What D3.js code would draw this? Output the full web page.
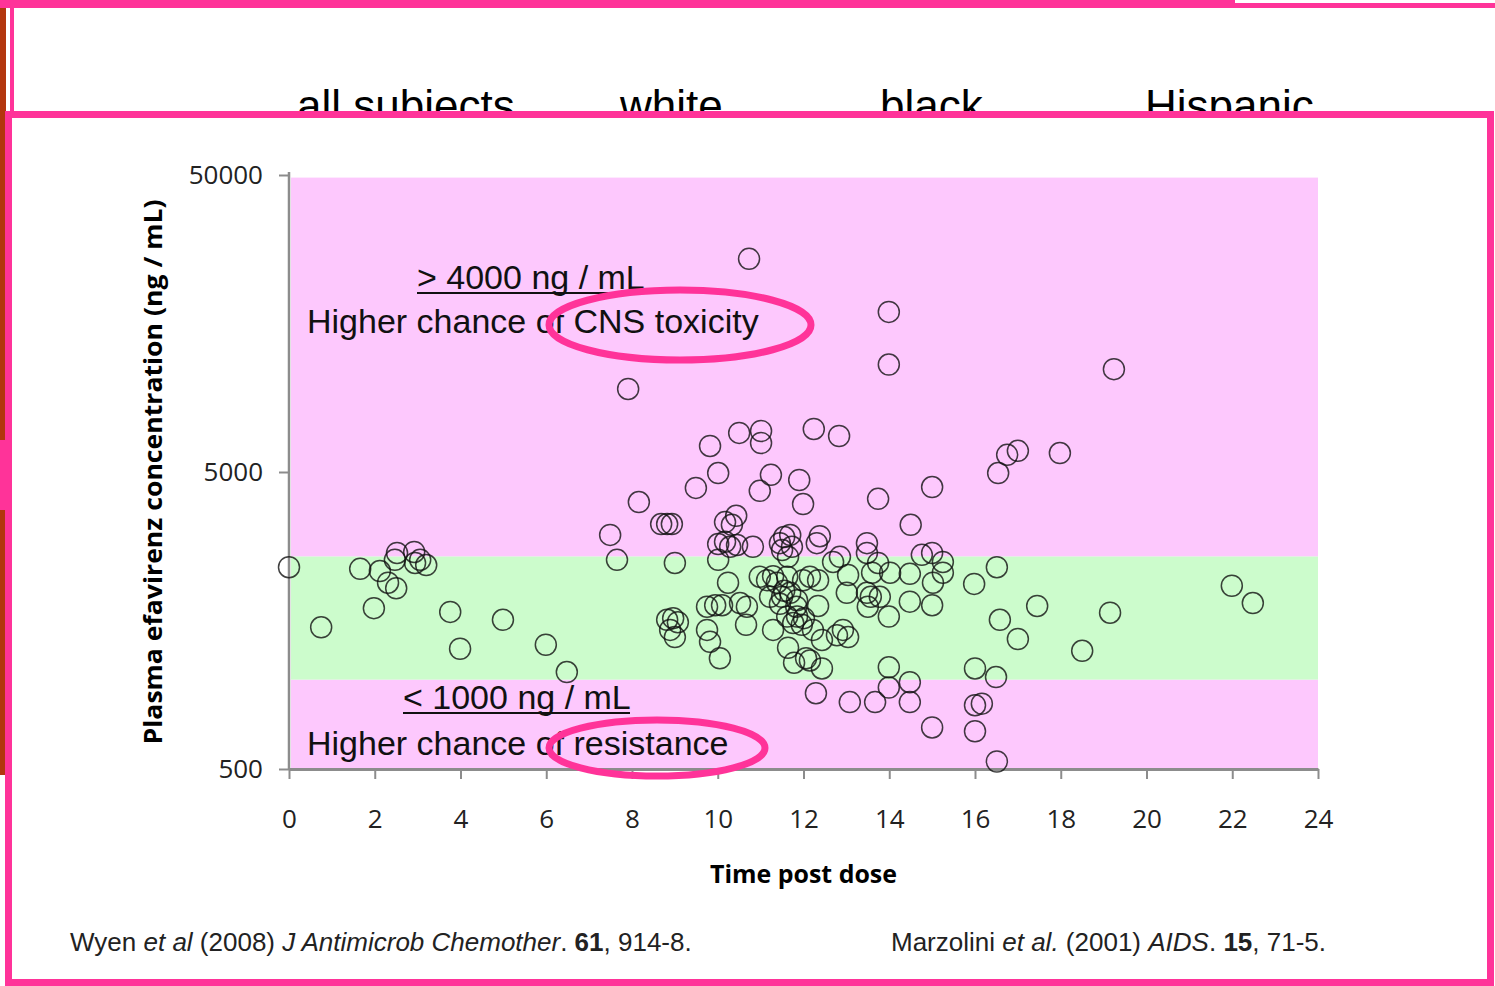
<!DOCTYPE html>
<html>
<head>
<meta charset="utf-8">
<script src="https://cdn.jsdelivr.net/npm/d3@7"></script>
<style>
  body { margin: 0; background: #fff; }
  svg { display: block; }
</style>
</head>
<body>
<div id="chart"></div>
<script>
// slide header (partly hidden behind the chart panel)
const groups = ["all subjects", "white", "black", "Hispanic"];

// efavirenz concentrations vs. time post dose
const hours = [0, 0.75, 1.66, 2.12, 1.98, 2.31, 2.5, 2.47, 2.52, 2.92, 2.94, 3.2, 3.06, 3.76, 3.99, 4.99, 5.99, 6.48,
  7.91, 8.16, 7.49, 7.65, 8.68, 8.82, 8.93, 9.0, 8.82, 8.96, 9.07, 8.89, 9.0,
  9.49, 9.82, 10.01, 10.5, 10.73, 11.01, 11.01, 10.98, 11.24,
  9.75, 9.94, 10.1, 9.75, 9.82, 10.05, 10.24, 10.01, 10.17, 10.43, 10.33, 10.01, 10.17, 10.29, 10.45, 10.82,
  10.52, 10.68, 10.66, 11.29, 10.98, 11.15, 11.29, 11.22,
  11.45, 11.55, 11.69, 11.5, 11.64, 11.73, 11.38, 11.62, 11.5, 11.55, 11.69, 11.85, 11.45,
  11.64, 11.78, 12.06, 12.15, 11.62, 11.76, 11.85, 11.96,
  11.9, 11.99, 12.24, 12.83, 12.31, 12.38, 12.69, 12.85, 13.04, 12.15, 11.99, 12.34, 11.83, 12.01, 12.34, 12.22, 12.43, 12.92, 13.04, 12.78, 12.43, 13.01, 12.29, 13.08,
  13.74, 15.0, 14.5, 13.48, 13.48, 13.74, 14.02, 13.6, 13.48, 13.5, 13.57, 13.78, 13.99, 14.48, 14.48, 14.76, 15.0, 15.25, 15.25, 15.02, 15.0,
  13.99, 13.99, 14.48, 14.48, 13.67, 15.0, 13.99, 13.99,
  16.51, 15.98, 17.45, 16.58, 17.0, 18.5, 19.15, 16.0, 16.49, 16.0, 16.16, 16.0, 16.51, 16.54, 16.75, 17.0, 17.98, 19.24, 21.99, 22.48];
const conc = [2390, 1500, 2360, 2320, 1740, 2120, 2030, 2530, 2670, 2690, 2470, 2430, 2530, 1690, 1270, 1590, 1310, 1060,
  9520, 3960, 3070, 2530, 3340, 3340, 3340, 2470, 1590, 1610, 1560, 1470, 1390,
  4420, 6120, 4960, 6770, 26100, 6870, 6260, 4320, 4890,
  1760, 1780, 1780, 1470, 1340, 1180, 2120, 2530, 3390, 3560, 3320, 2860, 2910, 2800, 2840, 2800,
  1810, 1760, 1530, 1470, 2220, 2160, 2230, 1900,
  2880, 3020, 3070, 2730, 2590, 2800, 2120, 2220, 1900, 1990, 1960, 1850, 1800,
  1280, 1140, 1180, 1160, 1630, 1550, 1630, 1530,
  4700, 3900, 6980, 6610, 2880, 3040, 2490, 2590, 2250, 2220, 2160, 2160, 1760, 1610, 1770, 1470, 1360, 1470, 1390, 1410, 1090, 1960, 900, 840,
  4060, 4450, 3320, 2880, 2670, 2470, 2290, 2290, 1960, 1760, 1900, 1900, 1630, 2270, 1830, 2630, 2670, 2490, 2290, 2120, 1780,
  1100, 940, 980, 840, 840, 690, 17300, 11500,
  2390, 2100, 1770, 1590, 1370, 1250, 1680, 1090, 1020, 820, 830, 670, 530, 4960, 5710, 5890, 5790, 11100, 2070, 1810];

// shaded zones (ng/mL): low / therapeutic / high
const zoneLow = [500, 1000, 2600];
const zoneHigh = [1000, 2600, 49000];
const zoneColor = ["#fdc8fd", "#ccfccc", "#fdc8fd"];

const xTicks = [0, 2, 4, 6, 8, 10, 12, 14, 16, 18, 20, 22, 24];
const yTicks = [500, 5000, 50000];

const W = 1495, H = 986;
const PINK = "#ff3399";

const svg = d3.select("#chart").append("svg")
  .attr("width", W).attr("height", H);

// --- slide background bits ---
svg.append("rect").attr("x", 0).attr("y", 0).attr("width", 6).attr("height", 440).attr("fill", "#b3360e");
svg.append("rect").attr("x", 0).attr("y", 440).attr("width", 6).attr("height", 70).attr("fill", PINK);
svg.append("rect").attr("x", 0).attr("y", 510).attr("width", 6).attr("height", 265).attr("fill", "#b3360e");
svg.append("rect").attr("x", 0).attr("y", 0).attr("width", 1235).attr("height", 8).attr("fill", PINK);
svg.append("rect").attr("x", 1235).attr("y", 3).attr("width", 260).attr("height", 5).attr("fill", PINK);
svg.append("rect").attr("x", 10).attr("y", 8).attr("width", 4).attr("height", 106).attr("fill", PINK);

const headX = [297, 620, 880, 1145];
svg.selectAll(".head").data(groups).enter().append("text")
  .attr("x", (d, i) => headX[i]).attr("y", 121)
  .style("font-family", "'Liberation Sans', Arial, sans-serif")
  .style("font-size", "44px").style("fill", "#000")
  .text(d => d);

// --- chart panel ---
svg.append("rect")
  .attr("x", 8.5).attr("y", 114.5).attr("width", 1482).attr("height", 868)
  .attr("fill", "#fff").attr("stroke", PINK).attr("stroke-width", 7);

const x = d3.scaleLinear().domain([0, 24]).range([289, 1318]);
const y = d3.scaleLog().domain([500, 50000]).range([769, 175]);

const plot = svg.append("g");

plot.selectAll(".zone").data(zoneLow).enter().append("rect")
  .attr("x", x(0) + 2).attr("width", x(24) - x(0) - 2)
  .attr("y", (d, i) => y(zoneHigh[i]))
  .attr("height", (d, i) => y(d) - y(zoneHigh[i]))
  .attr("fill", (d, i) => zoneColor[i]);

const tickFont = "'Open Sans', 'Noto Sans', sans-serif";

const yAxis = plot.append("g")
  .attr("transform", `translate(${x(0)},0)`)
  .call(d3.axisLeft(y).tickValues(yTicks).tickFormat(d3.format("d")).tickSize(10).tickSizeOuter(0).tickPadding(16));
yAxis.select(".domain").attr("stroke", "#8c8c8c").attr("stroke-width", 2.5)
  .attr("d", `M0,${y(50000) - 3}V${y(500)}`);
yAxis.selectAll(".tick line").attr("stroke", "#8c8c8c").attr("stroke-width", 2);
yAxis.selectAll(".tick text")
  .style("font-family", tickFont).style("font-size", "26px").style("fill", "#222");

const xAxis = plot.append("g")
  .attr("transform", `translate(0,${y(500)})`)
  .call(d3.axisBottom(x).tickValues(xTicks).tickSize(10).tickSizeOuter(0).tickPadding(31));
xAxis.select(".domain").attr("stroke", "#8c8c8c").attr("stroke-width", 3);
xAxis.selectAll(".tick line").attr("stroke", "#8c8c8c").attr("stroke-width", 2);
xAxis.selectAll(".tick text")
  .style("font-family", tickFont).style("font-size", "26px").style("fill", "#222");

// points
plot.selectAll(".pt").data(hours).enter().append("circle")
  .attr("cx", d => x(d))
  .attr("cy", (d, i) => y(conc[i]))
  .attr("r", 10.5)
  .attr("fill", "none")
  .attr("stroke", "#111")
  .attr("stroke-opacity", 0.8)
  .attr("stroke-width", 1.5);

// axis titles
svg.append("text")
  .attr("x", x(12)).attr("y", 883)
  .attr("text-anchor", "middle")
  .style("font-family", tickFont).style("font-weight", "bold")
  .style("font-size", "25px").style("fill", "#000")
  .attr("textLength", 187).attr("lengthAdjust", "spacingAndGlyphs")
  .text("Time post dose");

svg.append("text")
  .attr("transform", `translate(162,${(y(500) + y(50000)) / 2}) rotate(-90)`)
  .attr("text-anchor", "middle")
  .style("font-family", tickFont).style("font-weight", "bold")
  .style("font-size", "25px").style("fill", "#000")
  .attr("textLength", 545).attr("lengthAdjust", "spacingAndGlyphs")
  .text("Plasma efavirenz concentration (ng / mL)");

// annotations
const annFont = "'Liberation Sans', Arial, sans-serif";
function note(xp, yp, txt) {
  return svg.append("text").attr("x", xp).attr("y", yp)
    .style("font-family", annFont).style("font-size", "34px").style("fill", "#111")
    .text(txt);
}
note(417, 289, "> 4000 ng / mL");
note(307, 333, "Higher chance of CNS toxicity");
note(403, 709, "< 1000 ng / mL");
note(307, 755, "Higher chance of resistance");
svg.append("line").attr("x1", 417).attr("x2", 644).attr("y1", 293).attr("y2", 293)
  .attr("stroke", "#111").attr("stroke-width", 2);
svg.append("line").attr("x1", 403).attr("x2", 630).attr("y1", 713).attr("y2", 713)
  .attr("stroke", "#111").attr("stroke-width", 2);

svg.append("ellipse").attr("cx", 680).attr("cy", 325).attr("rx", 131).attr("ry", 35)
  .attr("fill", "none").attr("stroke", PINK).attr("stroke-width", 7);
svg.append("ellipse").attr("cx", 657).attr("cy", 748).attr("rx", 108).attr("ry", 28)
  .attr("fill", "none").attr("stroke", PINK).attr("stroke-width", 7);

// references (plain text runs, natural width)
function ref(xp, parts) {
  const t = svg.append("text").attr("x", xp).attr("y", 951)
    .style("font-family", annFont).style("font-size", "26px").style("fill", "#222");
  parts.forEach(p => {
    t.append("tspan").text(p[0])
      .style("font-style", p[1] === "i" ? "italic" : "normal")
      .style("font-weight", p[1] === "b" ? "bold" : "normal");
  });
}
ref(70, [["Wyen ", ""], ["et al", "i"], [" (2008) ", ""], ["J Antimicrob Chemother", "i"], [". ", ""], ["61", "b"], [", 914-8.", ""]]);
ref(891, [["Marzolini ", ""], ["et al.", "i"], [" (2001) ", ""], ["AIDS", "i"], [". ", ""], ["15", "b"], [", 71-5.", ""]]);
</script>
</body>
</html>
